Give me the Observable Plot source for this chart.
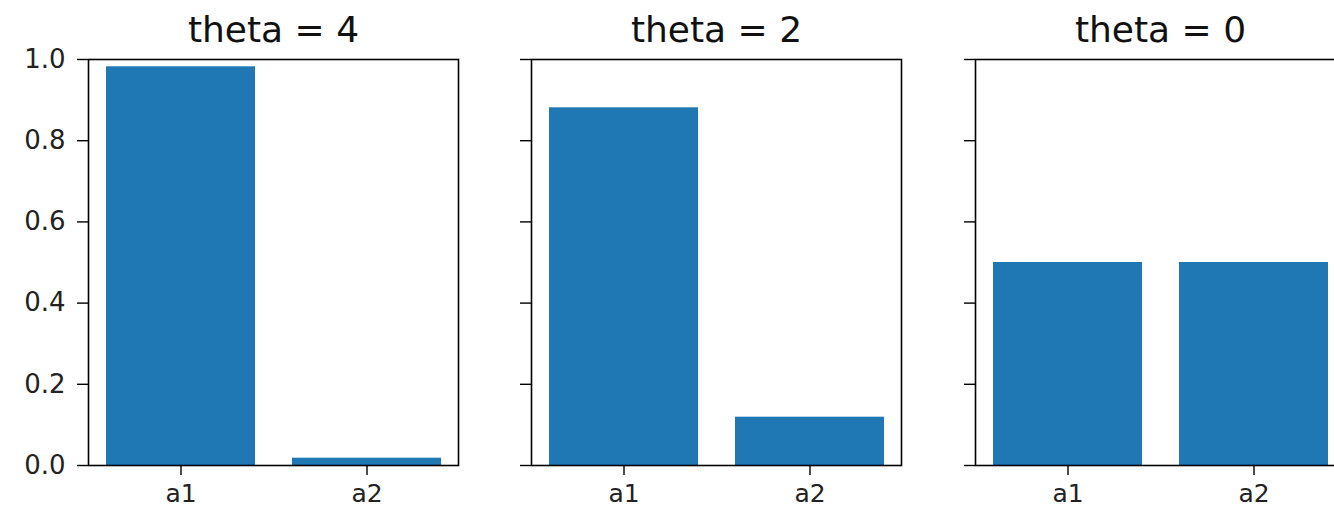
<!DOCTYPE html>
<html>
<head>
<meta charset="utf-8">
<script src="https://cdn.jsdelivr.net/npm/d3@7"></script>
<script src="https://cdn.jsdelivr.net/npm/@observablehq/plot@0.6"></script>
<style>
  html, body { margin: 0; padding: 0; background: #fff; overflow: hidden; }
  #wrap { position: relative; width: 1334px; height: 507px; overflow: hidden; background: #fff; }
  #wrap svg { position: absolute; top: 0; background: transparent; }
</style>
</head>
<body>
<div id="wrap"></div>
<script>
const titles = ["theta = 4", "theta = 2", "theta = 0"];
const actions = ["a1", "a2"];
const probsTheta4 = [0.982, 0.018];
const probsTheta2 = [0.881, 0.119];
const probsTheta0 = [0.5, 0.5];
const yTicks = [0, 0.2, 0.4, 0.6, 0.8, 1.0];

const series = [probsTheta4, probsTheta2, probsTheta0];
const panelLefts = [88, 531, 975];
const panelW = 370;
const mL = 88, mR = 4, mT = 59, mB = 42;

const wrap = document.getElementById("wrap");
series.forEach((vals, i) => {
  const data = actions.map((a, j) => ({action: a, p: vals[j]}));
  const svg = Plot.plot({
    width: mL + panelW + mR,
    height: 507,
    marginLeft: mL, marginRight: mR, marginTop: mT, marginBottom: mB,
    style: {fontFamily: "DejaVu Sans", background: "transparent", color: "#000", overflow: "visible"},
    x: {domain: actions, paddingInner: 0.2, paddingOuter: 0.09, label: null},
    y: {domain: [0, 1], label: null},
    marks: [
      Plot.barY(data, {x: "action", y: "p", fill: "#1f77b4"}),
      Plot.axisY({ticks: yTicks, tickSize: 11, tickPadding: 12, fontSize: 26,
        tickFormat: i === 0 ? d3.format(".1f") : () => "", label: null, stroke: "#000", strokeWidth: 1.4, fill: "#222"}),
      Plot.axisX({tickSize: 10, tickPadding: 9, fontSize: 25, label: null, stroke: "#000", strokeWidth: 1.4, fill: "#222"}),
      Plot.frame({stroke: "#000", strokeWidth: 1.6}),
      Plot.text([titles[i]], {frameAnchor: "top", dy: -29, lineAnchor: "middle", textAnchor: "middle", fontSize: 36, fill: "#111"})
    ]
  });
  svg.style.left = (panelLefts[i] - mL) + "px";
  wrap.appendChild(svg);
});
</script>
</body>
</html>
